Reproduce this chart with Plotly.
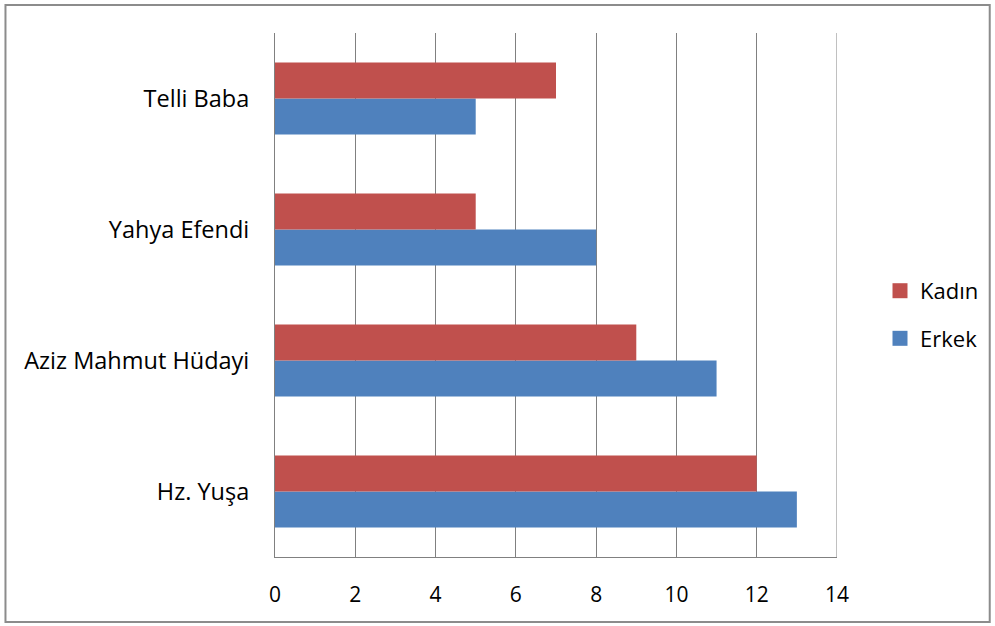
import plotly.graph_objects as go

categories = ["Hz. Yuşa", "Aziz Mahmut Hüdayi", "Yahya Efendi", "Telli Baba"]
erkek = [13, 11, 8, 5]
kadin = [12, 9, 5, 7]
x_ticks = [0, 2, 4, 6, 8, 10, 12, 14]

FONT = "Open Sans, Liberation Sans, sans-serif"
C_ERKEK = "#4F81BD"
C_KADIN = "#C0504D"

fig = go.Figure()
fig.add_trace(go.Bar(y=categories, x=erkek, name="Erkek", orientation="h",
                     marker=dict(color=C_ERKEK, line=dict(width=0)), showlegend=False))
fig.add_trace(go.Bar(y=categories, x=kadin, name="Kadın", orientation="h",
                     marker=dict(color=C_KADIN, line=dict(width=0)), showlegend=False))
# legend entries with larger square swatches
fig.add_trace(go.Scatter(x=[None], y=[None], mode="markers", name="Kadın", legendgroup="k",
                         marker=dict(symbol="square", size=15, color=C_KADIN)))
fig.add_trace(go.Scatter(x=[None], y=[None], mode="markers", name="Erkek", legendgroup="e",
                         marker=dict(symbol="square", size=15, color=C_ERKEK)))

fig.update_layout(
    width=995, height=626,
    margin=dict(l=275, r=157, t=33, b=69),
    paper_bgcolor="white", plot_bgcolor="white",
    barmode="group", bargap=0.45, bargroupgap=0,
    font=dict(family=FONT, size=22, color="#000000"),
    xaxis=dict(range=[0, 14], tickvals=x_ticks, showgrid=True, gridcolor="#808080",
               gridwidth=1, zeroline=False, showline=True, linecolor="#808080",
               mirror=False, ticks="outside", ticklen=19, tickcolor="rgba(0,0,0,0)",
               tickfont=dict(size=21, family=FONT), fixedrange=True),
    yaxis=dict(showgrid=False, zeroline=False, showline=True, linecolor="#808080",
               ticks="outside", ticklen=20, tickcolor="rgba(0,0,0,0)",
               tickfont=dict(size=23.5, family=FONT), fixedrange=True),
    legend=dict(x=1.0746, y=0.462, xanchor="left", yanchor="middle",
                traceorder="grouped", font=dict(size=22, family=FONT),
                itemwidth=30, tracegroupgap=16, bgcolor="rgba(0,0,0,0)"),
    showlegend=True,
)

fig.add_shape(type="line", xref="x", yref="paper", x0=14, x1=14, y0=0, y1=1,
              line=dict(color="#808080", width=1))
fig.add_shape(type="rect", xref="paper", yref="paper",
              x0=-270/563, x1=(991-275)/563, y0=-(622-557)/524, y1=(557-5)/524,
              line=dict(color="#8C8C8C", width=2), layer="below")

fig.write_html("out.html", config={"displayModeBar": False},
               post_script="document.body.style.margin='0';document.body.style.overflow='hidden';")
